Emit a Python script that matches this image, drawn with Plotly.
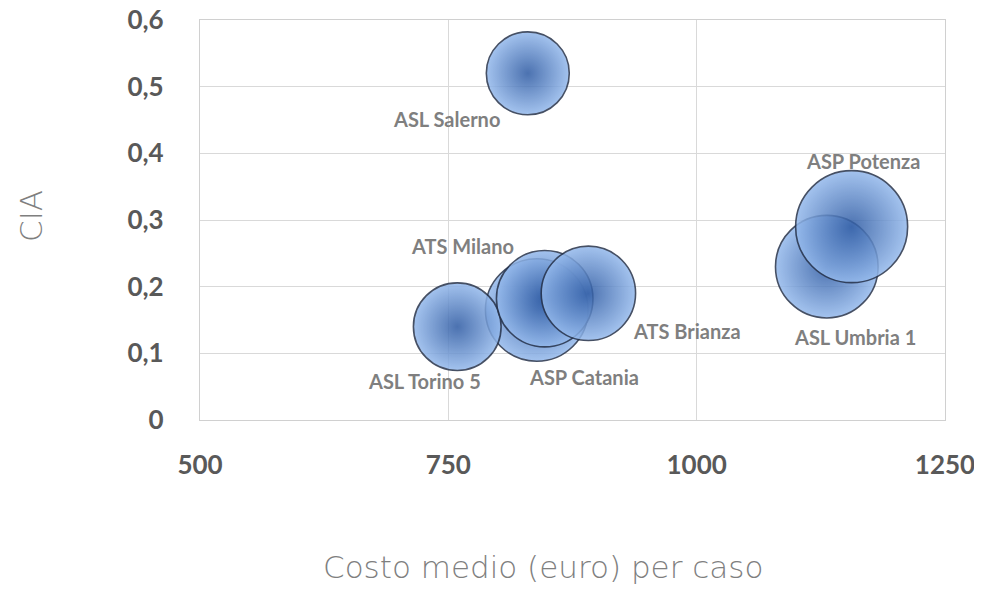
import plotly.graph_objects as go

names = ["ASP Catania", "ASL Torino 5", "ATS Milano", "ATS Brianza", "ASL Salerno", "ASL Umbria 1", "ASP Potenza"]
costo = [839, 759, 847, 891, 830, 1131, 1156]
cia = [0.165, 0.14, 0.182, 0.19, 0.52, 0.23, 0.29]
size = [26, 19, 23, 22, 17, 26, 31]
# label offsets in px (style)
lab_dx = [47, -33, -82, 99, -81, 28, 11]
lab_dy = [-67, -54, 53, -38, -46, -70, 66]

x_ticks = [500, 750, 1000, 1250]
y_ticks = [0, 0.1, 0.2, 0.3, 0.4, 0.5, 0.6]
y_labels = ["0", "0,1", "0,2", "0,3", "0,4", "0,5", "0,6"]

max_diam = 112
sizeref = 2 * max(size) / (max_diam ** 2)

fig = go.Figure()
fig.add_trace(go.Scatter(
    x=costo, y=cia, mode="markers",
    marker=dict(
        size=size, sizemode="area", sizeref=sizeref,
        color="#94b9ec",
        gradient=dict(type="radial", color="#2d5aa3"),
        opacity=0.85,
        line=dict(color="#26324a", width=1.6),
    ),
    hovertext=names, hoverinfo="text+x+y",
    cliponaxis=False,
    showlegend=False,
))

for n, xv, yv, dx, dy in zip(names, costo, cia, lab_dx, lab_dy):
    fig.add_annotation(x=xv, y=yv, text=n, showarrow=False, xshift=dx, yshift=dy,
                       font=dict(family="Lato", size=20, color="#7f7f7f", weight="bold"))

L, T, W, H = 200, 20, 745, 400
fig.add_annotation(xref="paper", yref="paper", x=(543 - L) / W, y=(T + H - 567) / H,
                   xanchor="center", yanchor="middle",
                   text="Costo medio (euro) per caso", showarrow=False,
                   font=dict(family="DejaVu Sans", size=31, color="#7f7f7f", weight=200))
fig.add_annotation(xref="paper", yref="paper", x=(31 - L) / W, y=(T + H - 216) / H,
                   xanchor="center", yanchor="middle",
                   text="CIA", showarrow=False, textangle=-90,
                   font=dict(family="DejaVu Sans", size=31, color="#7f7f7f", weight=200))

tickfont = dict(family="Lato", size=26, color="#595959", weight="bold")
fig.update_layout(
    width=982, height=611,
    margin=dict(l=192, r=45, t=12, b=199, autoexpand=False),
    paper_bgcolor="white", plot_bgcolor="white",
    separators=",.",
    xaxis=dict(range=[500, 1250], tickvals=x_ticks, showgrid=True, gridcolor="#d9d9d9", gridwidth=1.3,
               zeroline=False, showline=True, linecolor="#d0d0d0", linewidth=1.3, mirror=True,
               ticks="outside", ticklen=0, ticklabelstandoff=22, tickfont=tickfont,
               ticklabeloverflow="allow", automargin=False),
    yaxis=dict(range=[0, 0.6], tickvals=y_ticks, ticktext=y_labels, showgrid=True, gridcolor="#d9d9d9",
               gridwidth=1.3, zeroline=False, showline=True, linecolor="#d0d0d0", linewidth=1.3, mirror=True,
               ticks="outside", ticklen=0, ticklabelstandoff=30, tickfont=tickfont,
               ticklabeloverflow="allow", automargin=False),
)

fig.write_html("out.html")
